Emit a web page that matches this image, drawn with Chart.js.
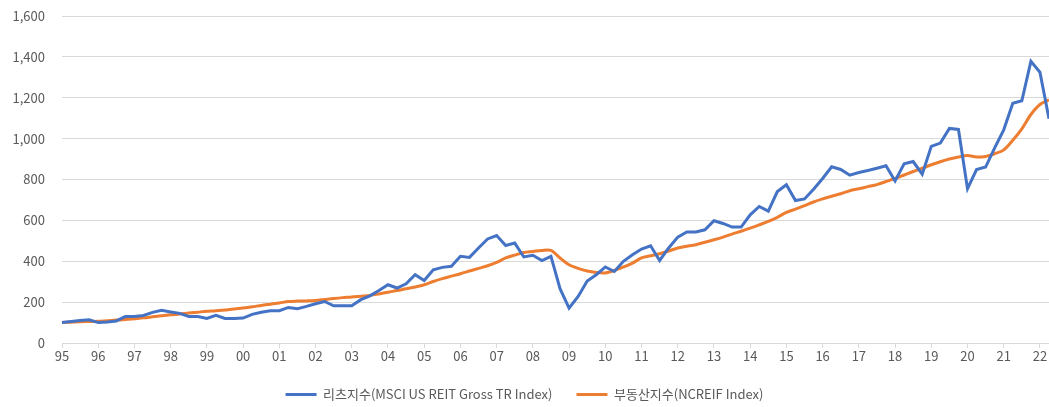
<!DOCTYPE html>
<html><head><meta charset="utf-8">
<script src="https://cdn.jsdelivr.net/npm/chart.js@4.4.1/dist/chart.umd.min.js"></script>
<style>html,body{margin:0;padding:0;background:#fff}#wrap{width:1049px;height:407px;position:relative}</style>
</head><body><div id="wrap"><canvas id="c"></canvas></div>
<script>
const yearLabels = ['95','96','97','98','99','00','01','02','03','04','05','06','07','08','09','10','11','12','13','14','15','16','17','18','19','20','21','22'];
const seriesNames = ['리츠지수(MSCI US REIT Gross TR Index)', '부동산지수(NCREIF Index)'];
const reitValues = [
  100,105,110,114, 100,103,108,130, 130,135,150,160, 152,145,130,130,
  120,135,120,120, 122,140,150,158, 158,174,168,179, 192,203,182,182,
  182,212,231,257, 285,269,290,334, 306,358,370,375, 424,419,465,509,
  526,477,489,421, 429,403,424,266, 171,228,303,334, 372,350,400,432,
  460,476,404,465, 518,543,543,554, 598,585,567,567, 627,668,645,741,
  774,697,705,752, 805,862,849,821, 834,844,855,867, 793,877,888,826,
  962,978,1050,1045, 755,849,861,955, 1043,1173,1185,1378, 1325,1097
];
const ncreifValues = [
  100,102,104,105, 106,109,112,115, 119,123,128,133, 138,142,147,151,
  155,158,162,166, 171,177,184,190, 196,203,205,206, 208,213,218,222,
  225,229,233,240, 248,257,265,274, 285,301,315,327, 339,352,365,378,
  394,416,430,443, 448,453,453,416, 383,365,352,345, 343,355,372,391,
  416,427,437,450, 465,473,481,493, 505,518,533,547, 562,578,595,615,
  639,655,672,690, 705,718,730,745, 755,765,775,790, 805,822,839,855,
  872,887,900,910, 917,910,913,926, 945,992,1048,1118, 1167,1190
];
const yTicks = [0,200,400,600,800,1000,1200,1400,1600];

const categories = [];
yearLabels.forEach(y => { for (let q = 1; q <= 4; q++) categories.push(y + 'Q' + q); });
categories.length = reitValues.length;

const FONT = "'Noto Sans CJK KR', 'Noto Sans', sans-serif";
const GRAY = '#595959';

new Chart(document.getElementById('c'), {
  type: 'line',
  data: {
    labels: categories,
    datasets: [
      { label: seriesNames[0], data: reitValues, borderColor: '#4472C4', backgroundColor: '#4472C4', borderWidth: 3, pointRadius: 0, tension: 0 },
      { label: seriesNames[1], data: ncreifValues, borderColor: '#ED7D31', backgroundColor: '#ED7D31', borderWidth: 3, pointRadius: 0, tension: 0.3 }
    ]
  },
  options: {
    responsive: true, maintainAspectRatio: false, animation: false,
    layout: { padding: { top: 16, right: 0, left: 0, bottom: -4 } },
    plugins: {
      tooltip: { enabled: false },
      legend: {
        position: 'bottom',
        labels: {
          font: { family: FONT, size: 13 }, color: GRAY,
          boxWidth: 31, boxHeight: 3, padding: 24,
          generateLabels: (chart) => Chart.defaults.plugins.legend.labels.generateLabels(chart).map(l => Object.assign(l, { lineWidth: 0 }))
        }
      }
    },
    scales: {
      x: {
        type: 'category',
        afterFit: (s) => { s.height = 21; },
        border: { display: true, color: '#d9d9d9', width: 1 },
        grid: {
          drawOnChartArea: false, drawTicks: true, tickLength: 5,
          color: (ctx) => (ctx.index % 4 === 0 ? '#d9d9d9' : 'rgba(0,0,0,0)')
        },
        ticks: {
          autoSkip: false, maxRotation: 0, minRotation: 0, padding: 0,
          font: { family: FONT, size: 13 }, color: GRAY,
          callback: (v, i) => (i % 4 === 0 ? yearLabels[i / 4] : '')
        }
      },
      y: {
        min: 0, max: 1600,
        afterFit: (s) => { s.width = 62; },
        afterBuildTicks: (s) => { s.ticks = yTicks.map(v => ({ value: v })); },
        border: { display: false },
        grid: { color: '#d9d9d9', lineWidth: 1, drawTicks: true, tickLength: 17, tickColor: 'rgba(0,0,0,0)' },
        ticks: { padding: 0, font: { family: FONT, size: 13 }, color: GRAY }
      }
    }
  }
});
</script></body></html>
